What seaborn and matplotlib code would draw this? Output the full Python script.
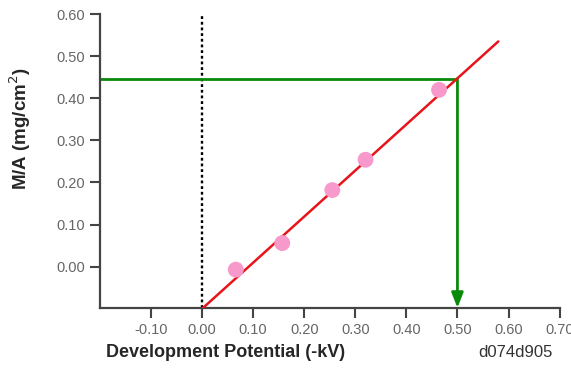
import numpy as np
import pandas as pd
import matplotlib
matplotlib.use("Agg")
import matplotlib.pyplot as plt
import seaborn as sns

# measured points
potential = [0.066, 0.157, 0.255, 0.320, 0.464]
mass_area = [-0.007, 0.056, 0.182, 0.254, 0.420]

# fitted line ends
fit_x = [0.0, 0.58]
fit_y = [-0.10, 0.535]

# read-off value
target_x = 0.50
target_y = 0.447

x_ticks = [-0.10, 0.00, 0.10, 0.20, 0.30, 0.40, 0.50, 0.60, 0.70]
y_ticks = [0.00, 0.10, 0.20, 0.30, 0.40, 0.50, 0.60]

sns.set_style("ticks")
plt.rcParams['font.family'] = ['Liberation Sans', 'DejaVu Sans']

fig = plt.figure(figsize=(5.71, 3.71), dpi=100)
ax = fig.add_axes([0.175, 0.17, 0.805, 0.792])

xmin, xmax = -0.20, 0.70
ymin, ymax = -0.098, 0.60

# dotted zero line
ax.plot([0, 0], [ymin, ymax], color='black', linestyle=(0, (1.2, 1.2)), linewidth=1.7, zorder=2)

# green read-off path
ax.plot([xmin, target_x], [target_y, target_y], color='#0a8a0a', linewidth=2, zorder=2, solid_capstyle='butt')
ax.annotate('', xy=(target_x, ymin), xytext=(target_x, target_y),
            arrowprops=dict(arrowstyle='-|>,head_width=0.35,head_length=0.9', color='#0a8a0a',
                            linewidth=2, shrinkA=0, shrinkB=0), zorder=2)

df_fit = pd.DataFrame({'x': fit_x, 'y': fit_y})
sns.lineplot(data=df_fit, x='x', y='y', ax=ax, color='#e8141b', linewidth=1.8, zorder=3)

df = pd.DataFrame({'potential': potential, 'mass_area': mass_area})
sns.scatterplot(data=df, x='potential', y='mass_area', ax=ax, s=130, color='#f79acb',
                edgecolor='none', zorder=4)

ax.set_xlim(xmin, xmax)
ax.set_ylim(ymin, ymax)
ax.set_xticks(x_ticks)
ax.set_yticks(y_ticks)
ax.set_xticklabels([f'{v:.2f}' for v in x_ticks])
ax.set_yticklabels([f'{v:.2f}' for v in y_ticks])
ax.tick_params(axis='both', direction='out', length=7, width=1.5, color='#444444',
               labelsize=10.5, labelcolor='#666666', pad=4)
for side in ['left', 'bottom']:
    ax.spines[side].set_linewidth(1.6)
    ax.spines[side].set_color('#444444')
sns.despine(ax=ax)

ax.set_xlabel('')
ax.set_ylabel('M/A (mg/cm$^2$)', fontsize=13.5, fontweight='bold')
ax.yaxis.set_label_coords(-0.145, 0.61)
fig.text(0.395, 0.05, 'Development Potential (-kV)', fontsize=13, fontweight='bold',
         ha='center', va='center')
fig.text(0.902, 0.05, 'd074d905', fontsize=12, color='#333333', ha='center', va='center')

fig.savefig('out.png', dpi=100)
